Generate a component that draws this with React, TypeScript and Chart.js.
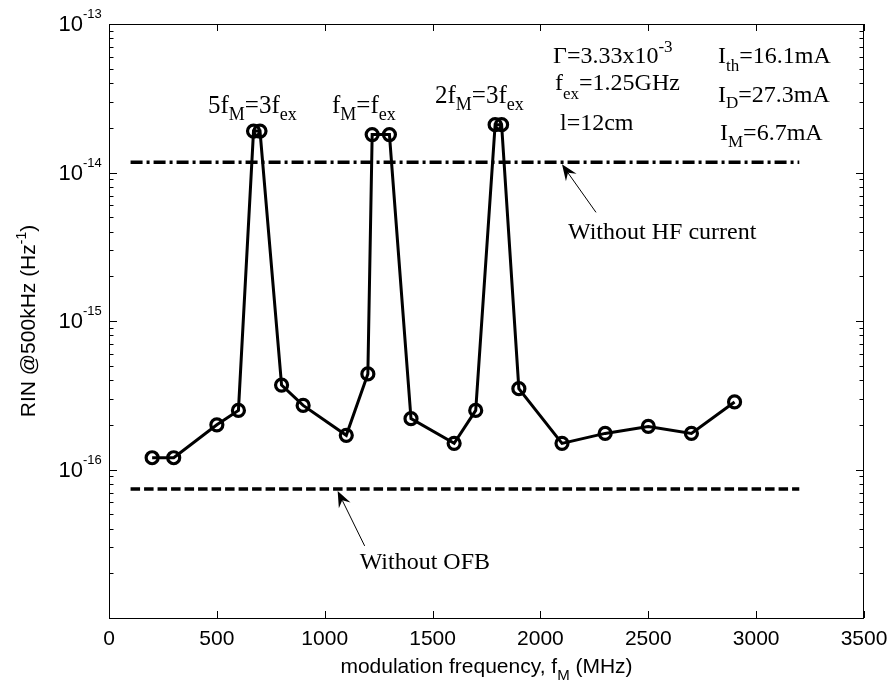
import React, { useEffect, useRef } from "react";
import { Chart, registerables } from "chart.js";

Chart.register(...registerables);

// Measured RIN at 500 kHz versus modulation frequency (MHz)
const freqMHz = [200, 300, 500, 600, 670, 700, 800, 900, 1100, 1200, 1220, 1300, 1400, 1600, 1700, 1790, 1820, 1900, 2100, 2300, 2500, 2700, 2900];
const rinValues = [1.2e-16, 1.2e-16, 2.0e-16, 2.5e-16, 1.9e-14, 1.9e-14, 3.7e-16, 2.7e-16, 1.7e-16, 4.4e-16, 1.8e-14, 1.8e-14, 2.2e-16, 1.5e-16, 2.5e-16, 2.1e-14, 2.1e-14, 3.5e-16, 1.5e-16, 1.75e-16, 1.95e-16, 1.75e-16, 2.85e-16];

// Reference levels
const refSpanMHz = [100, 3200];
const rinWithoutHF = 1.17e-14;
const rinWithoutOFB = 7.4e-17;

// Axis ticks
const xTickValues = [0, 500, 1000, 1500, 2000, 2500, 3000, 3500];
const yDecadeExponents = [-17, -16, -15, -14];
const yLabelExponents = [-13, -14, -15, -16];

// Arrow tips (frequency along each reference line)
const hfArrowTipMHz = 2100;
const ofbArrowTipMHz = 1060;

type Seg = [string, "n" | "b" | "p"];

const SANS = "'Liberation Sans', Arial, sans-serif";
const SERIF = "'Liberation Serif', 'Times New Roman', serif";

function drawRich(
  ctx: CanvasRenderingContext2D,
  segs: Seg[],
  x: number,
  y: number,
  size: number,
  family: string,
  opts: { align?: "left" | "center"; smallScale?: number; subShift?: number; supShift?: number } = {}
) {
  const small = Math.round(size * (opts.smallScale ?? 0.7));
  const subShift = opts.subShift ?? size * 0.3;
  const supShift = opts.supShift ?? size * 0.42;
  const fontFor = (k: string) => `${k === "n" ? size : small}px ${family}`;
  let w = 0;
  for (const [t, k] of segs) {
    ctx.font = fontFor(k);
    w += ctx.measureText(t).width;
  }
  let cx = opts.align === "center" ? x - w / 2 : x;
  ctx.textAlign = "left";
  ctx.textBaseline = "alphabetic";
  for (const [t, k] of segs) {
    ctx.font = fontFor(k);
    const dy = k === "b" ? subShift : k === "p" ? -supShift : 0;
    ctx.fillText(t, cx, y + dy);
    cx += ctx.measureText(t).width;
  }
}

function drawArrow(ctx: CanvasRenderingContext2D, tx: number, ty: number, fx: number, fy: number) {
  const ang = Math.atan2(ty - fy, tx - fx);
  const headLen = 16;
  const headW = 6.5;
  const back = 0.65;
  ctx.strokeStyle = "#000";
  ctx.lineWidth = 1;
  ctx.beginPath();
  ctx.moveTo(fx, fy);
  ctx.lineTo(tx - Math.cos(ang) * headLen * back, ty - Math.sin(ang) * headLen * back);
  ctx.stroke();
  ctx.fillStyle = "#000";
  ctx.beginPath();
  ctx.moveTo(tx, ty);
  ctx.lineTo(
    tx - Math.cos(ang) * headLen + Math.sin(ang) * headW,
    ty - Math.sin(ang) * headLen - Math.cos(ang) * headW
  );
  ctx.lineTo(tx - Math.cos(ang) * headLen * back, ty - Math.sin(ang) * headLen * back);
  ctx.lineTo(
    tx - Math.cos(ang) * headLen - Math.sin(ang) * headW,
    ty - Math.sin(ang) * headLen + Math.cos(ang) * headW
  );
  ctx.closePath();
  ctx.fill();
}

const framePlugin = {
  id: "frame",
  afterDraw(chart: any) {
    const ctx: CanvasRenderingContext2D = chart.ctx;
    const { left, right, top, bottom } = chart.chartArea;
    const xs = chart.scales.x;
    const ys = chart.scales.y;
    ctx.save();
    ctx.fillStyle = "#000";
    ctx.strokeStyle = "#000";

    // axes box
    ctx.lineWidth = 1;
    ctx.strokeRect(left + 0.5, top + 0.5, right - left - 1, bottom - top);

    // x ticks (inward, bottom and top)
    ctx.beginPath();
    for (const v of xTickValues) {
      const px = Math.round(xs.getPixelForValue(v)) + 0.5;
      ctx.moveTo(px, bottom);
      ctx.lineTo(px, bottom - 7);
      ctx.moveTo(px, top);
      ctx.lineTo(px, top + 7);
    }
    // y ticks, major and minor, on both sides
    const yTickVals: [number, boolean][] = [];
    for (const e of yDecadeExponents) {
      for (let m = 1; m <= 9; m++) yTickVals.push([m * Math.pow(10, e), m === 1]);
    }
    yTickVals.push([1e-13, true]);
    for (const [v, major] of yTickVals) {
      const py = Math.round(ys.getPixelForValue(v)) + 0.5;
      const len = major ? 8 : 4.5;
      ctx.moveTo(left, py);
      ctx.lineTo(left + len, py);
      ctx.moveTo(right, py);
      ctx.lineTo(right - len, py);
    }
    ctx.stroke();

    ctx.font = `21px ${SANS}`;
    ctx.textAlign = "center";
    ctx.textBaseline = "alphabetic";
    for (const v of xTickValues) {
      ctx.fillText(String(v), xs.getPixelForValue(v), bottom + 27);
    }

    // y labels 10^n
    for (const e of yLabelExponents) {
      const py = ys.getPixelForValue(Math.pow(10, e));
      ctx.font = `22px ${SANS}`;
      ctx.textAlign = "right";
      ctx.fillText("10", left - 26, py + 7);
      ctx.font = `13px ${SANS}`;
      ctx.textAlign = "left";
      ctx.fillText(String(e), left - 26, py - 6);
    }

    // axis titles
    drawRich(ctx, [["modulation frequency, f", "n"], ["M", "b"], [" (MHz)", "n"]], (left + right) / 2, bottom + 55, 21, SANS, {
      align: "center",
      smallScale: 0.72,
      subShift: 7,
    });
    ctx.save();
    ctx.translate(35, (top + bottom) / 2);
    ctx.rotate(-Math.PI / 2);
    drawRich(ctx, [["RIN @500kHz (Hz", "n"], ["-1", "p"], [")", "n"]], 0, 0, 21, SANS, {
      align: "center",
      smallScale: 0.65,
      supShift: 9,
    });
    ctx.restore();

    // reference line annotations
    const hfX = xs.getPixelForValue(hfArrowTipMHz);
    const hfY = ys.getPixelForValue(rinWithoutHF);
    drawArrow(ctx, hfX, hfY + 2, hfX + 34, hfY + 50);
    const ofbX = xs.getPixelForValue(ofbArrowTipMHz);
    const ofbY = ys.getPixelForValue(rinWithoutOFB);
    drawArrow(ctx, ofbX, ofbY + 2, ofbX + 27, ofbY + 57);

    const T = 24;
    const sub = { smallScale: 0.7, subShift: 7 };
    ctx.fillStyle = "#000";
    drawRich(ctx, [["Without HF current", "n"]], hfX + 6, hfY + 77, T, SERIF);
    drawRich(ctx, [["Without OFB", "n"]], ofbX + 22, ofbY + 80, T, SERIF);

    // resonance labels
    drawRich(ctx, [["5f", "n"], ["M", "b"], ["=3f", "n"], ["ex", "b"]], 208, 113, 25, SERIF, sub);
    drawRich(ctx, [["f", "n"], ["M", "b"], ["=f", "n"], ["ex", "b"]], 332, 113, 25, SERIF, sub);
    drawRich(ctx, [["2f", "n"], ["M", "b"], ["=3f", "n"], ["ex", "b"]], 435, 103, 25, SERIF, sub);

    // operating parameters
    drawRich(ctx, [["\u0393=3.33x10", "n"], ["-3", "p"]], 553, 63, T, SERIF, { smallScale: 0.7, supShift: 11 });
    drawRich(ctx, [["f", "n"], ["ex", "b"], ["=1.25GHz", "n"]], 555, 90, T, SERIF, { smallScale: 0.7, subShift: 9 });
    drawRich(ctx, [["l=12cm", "n"]], 560, 130, T, SERIF);
    drawRich(ctx, [["I", "n"], ["th", "b"], ["=16.1mA", "n"]], 718, 63, T, SERIF, { smallScale: 0.7, subShift: 8 });
    drawRich(ctx, [["I", "n"], ["D", "b"], ["=27.3mA", "n"]], 718, 102, T, SERIF, { smallScale: 0.7, subShift: 6 });
    drawRich(ctx, [["I", "n"], ["M", "b"], ["=6.7mA", "n"]], 720, 140, T, SERIF, { smallScale: 0.7, subShift: 7 });

    ctx.restore();
  },
};

export default function App() {
  const canvasRef = useRef<HTMLCanvasElement | null>(null);

  useEffect(() => {
    if (!canvasRef.current) return;
    const measured = freqMHz.map((f, i) => ({ x: f, y: rinValues[i] }));
    const hfLine = refSpanMHz.map((f) => ({ x: f, y: rinWithoutHF }));
    const ofbLine = refSpanMHz.map((f) => ({ x: f, y: rinWithoutOFB }));

    const chart = new Chart(canvasRef.current, {
      type: "line",
      data: {
        datasets: [
          {
            data: ofbLine,
            borderColor: "#000",
            borderWidth: 3.5,
            borderDash: [9.5, 4],
            borderCapStyle: "butt",
            pointRadius: 0,
            fill: false,
          },
          {
            data: hfLine,
            borderColor: "#000",
            borderWidth: 3.5,
            borderDash: [12, 4, 3, 4],
            borderCapStyle: "butt",
            pointRadius: 0,
            fill: false,
          },
          {
            data: measured,
            borderColor: "#000",
            borderWidth: 3,
            pointRadius: 6,
            pointBorderWidth: 3.2,
            pointBorderColor: "#000",
            pointBackgroundColor: "rgba(0,0,0,0)",
            pointStyle: "circle",
            fill: false,
            tension: 0,
          },
        ],
      } as any,
      options: {
        animation: false,
        responsive: false,
        devicePixelRatio: 1,
        events: [],
        layout: { padding: { top: 24, right: 28, left: 0, bottom: 0 } },
        plugins: { legend: { display: false }, tooltip: { enabled: false }, title: { display: false } },
        scales: {
          x: {
            type: "linear",
            min: 0,
            max: 3500,
            grid: { display: false },
            border: { display: false },
            ticks: { display: false },
            afterFit: (s: any) => {
              s.height = 66;
            },
          },
          y: {
            type: "logarithmic",
            min: 1e-17,
            max: 1e-13,
            grid: { display: false },
            border: { display: false },
            ticks: { display: false },
            afterFit: (s: any) => {
              s.width = 109;
            },
          },
        },
      } as any,
      plugins: [framePlugin],
    });
    return () => chart.destroy();
  }, []);

  return (
    <div style={{ position: "fixed", left: 0, top: 0, width: 892, height: 684, background: "#fff" }}>
      <canvas ref={canvasRef} width={892} height={684} style={{ display: "block" }} />
    </div>
  );
}
